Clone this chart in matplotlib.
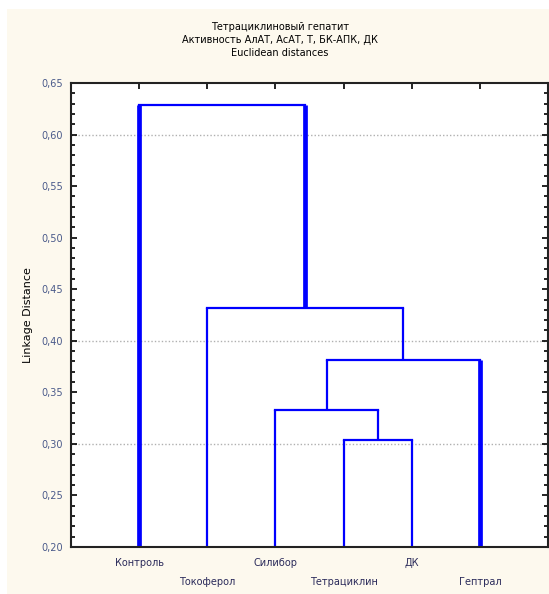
import matplotlib.pyplot as plt
from matplotlib.patches import Rectangle
from matplotlib.ticker import MultipleLocator, FuncFormatter

# leaves in dendrogram order
leaves = ['Контроль', 'Токоферол', 'Силибор', 'Тетрациклин', 'ДК', 'Гептрал']
leaf_pos = [1, 2, 3, 4, 5, 6]

# linkage heights, from the lowest merge to the top one
merge_heights = [0.304, 0.333, 0.381, 0.432, 0.629]
grid_levels = [0.60, 0.40, 0.30]

fig = plt.figure(figsize=(5.49, 5.94), dpi=100)
fig.patch.set_facecolor('white')
fig.add_artist(Rectangle((7 / 549, 0), 1, 1 - 9 / 594, transform=fig.transFigure,
                         facecolor='#fdf9ee', edgecolor='none', zorder=-10))
ax = fig.add_axes([71 / 549, 47 / 594, 477 / 549, 464 / 594])
ax.set_facecolor('white')

blue = '#0000ff'
base = 0.20
h1, h2, h3, h4, h5 = merge_heights

# cluster node x positions from their children
n1 = (leaf_pos[3] + leaf_pos[4]) / 2
n2 = (leaf_pos[2] + n1) / 2
n3 = (n2 + leaf_pos[5]) / 2
n4 = (leaf_pos[1] + n3) / 2

def link(x1, y1, x2, y2, h, lw1=1.6, lw2=1.6):
    ax.plot([x1, x1], [y1, h], color=blue, lw=lw1, solid_capstyle='butt')
    ax.plot([x2, x2], [y2, h], color=blue, lw=lw2, solid_capstyle='butt')
    ax.plot([x1, x2], [h, h], color=blue, lw=1.6)

link(leaf_pos[3], base, leaf_pos[4], base, h1)
link(leaf_pos[2], base, n1, h1, h2)
link(n2, h2, leaf_pos[5], base, h3, lw2=3.4)
link(leaf_pos[1], base, n3, h3, h4)
link(leaf_pos[0], base, n4, h4, h5, lw1=3.4, lw2=3.4)

for g in grid_levels:
    ax.axhline(g, color='#b0b0b0', lw=1.0, ls=(0, (1, 1.5)), zorder=0)

ax.set_xlim(0, 7)
ax.set_ylim(0.20, 0.65)
ax.set_xticks(leaf_pos)
ax.set_xticklabels([])
ax.yaxis.set_major_locator(MultipleLocator(0.05))
ax.yaxis.set_minor_locator(MultipleLocator(0.01))
ax.yaxis.set_major_formatter(FuncFormatter(lambda v, p: f'{v:.2f}'.replace('.', ',')))
ax.tick_params(axis='both', which='both', direction='in', top=True, right=True,
               width=1.2, color='black')
ax.tick_params(axis='y', which='major', length=4, labelsize=7, labelcolor='#4a5a8a', pad=6)
ax.tick_params(axis='y', which='minor', length=3)
ax.tick_params(axis='x', which='major', length=4)
for s in ax.spines.values():
    s.set_linewidth(1.5)
    s.set_color('#222222')

# staggered leaf labels below the axis
for i, (x, name) in enumerate(zip(leaf_pos, leaves)):
    off = -16 if i % 2 == 0 else -35
    ax.annotate(name, (x, 0.20), xytext=(0, off), textcoords='offset pixels',
                ha='center', va='center', fontsize=7, color='#2a2a5a',
                annotation_clip=False)

ax.set_ylabel('Linkage Distance', fontsize=8, labelpad=6)

fig.text(280 / 549, 1 - 27 / 594, 'Тетрациклиновый гепатит', ha='center', va='center', fontsize=7)
fig.text(280 / 549, 1 - 40 / 594, 'Активность АлАТ, АсАТ, Т, БК-АПК, ДК', ha='center', va='center', fontsize=7)
fig.text(280 / 549, 1 - 53 / 594, 'Euclidean distances', ha='center', va='center', fontsize=7)

fig.savefig('out.png', dpi=100, facecolor=fig.get_facecolor())
